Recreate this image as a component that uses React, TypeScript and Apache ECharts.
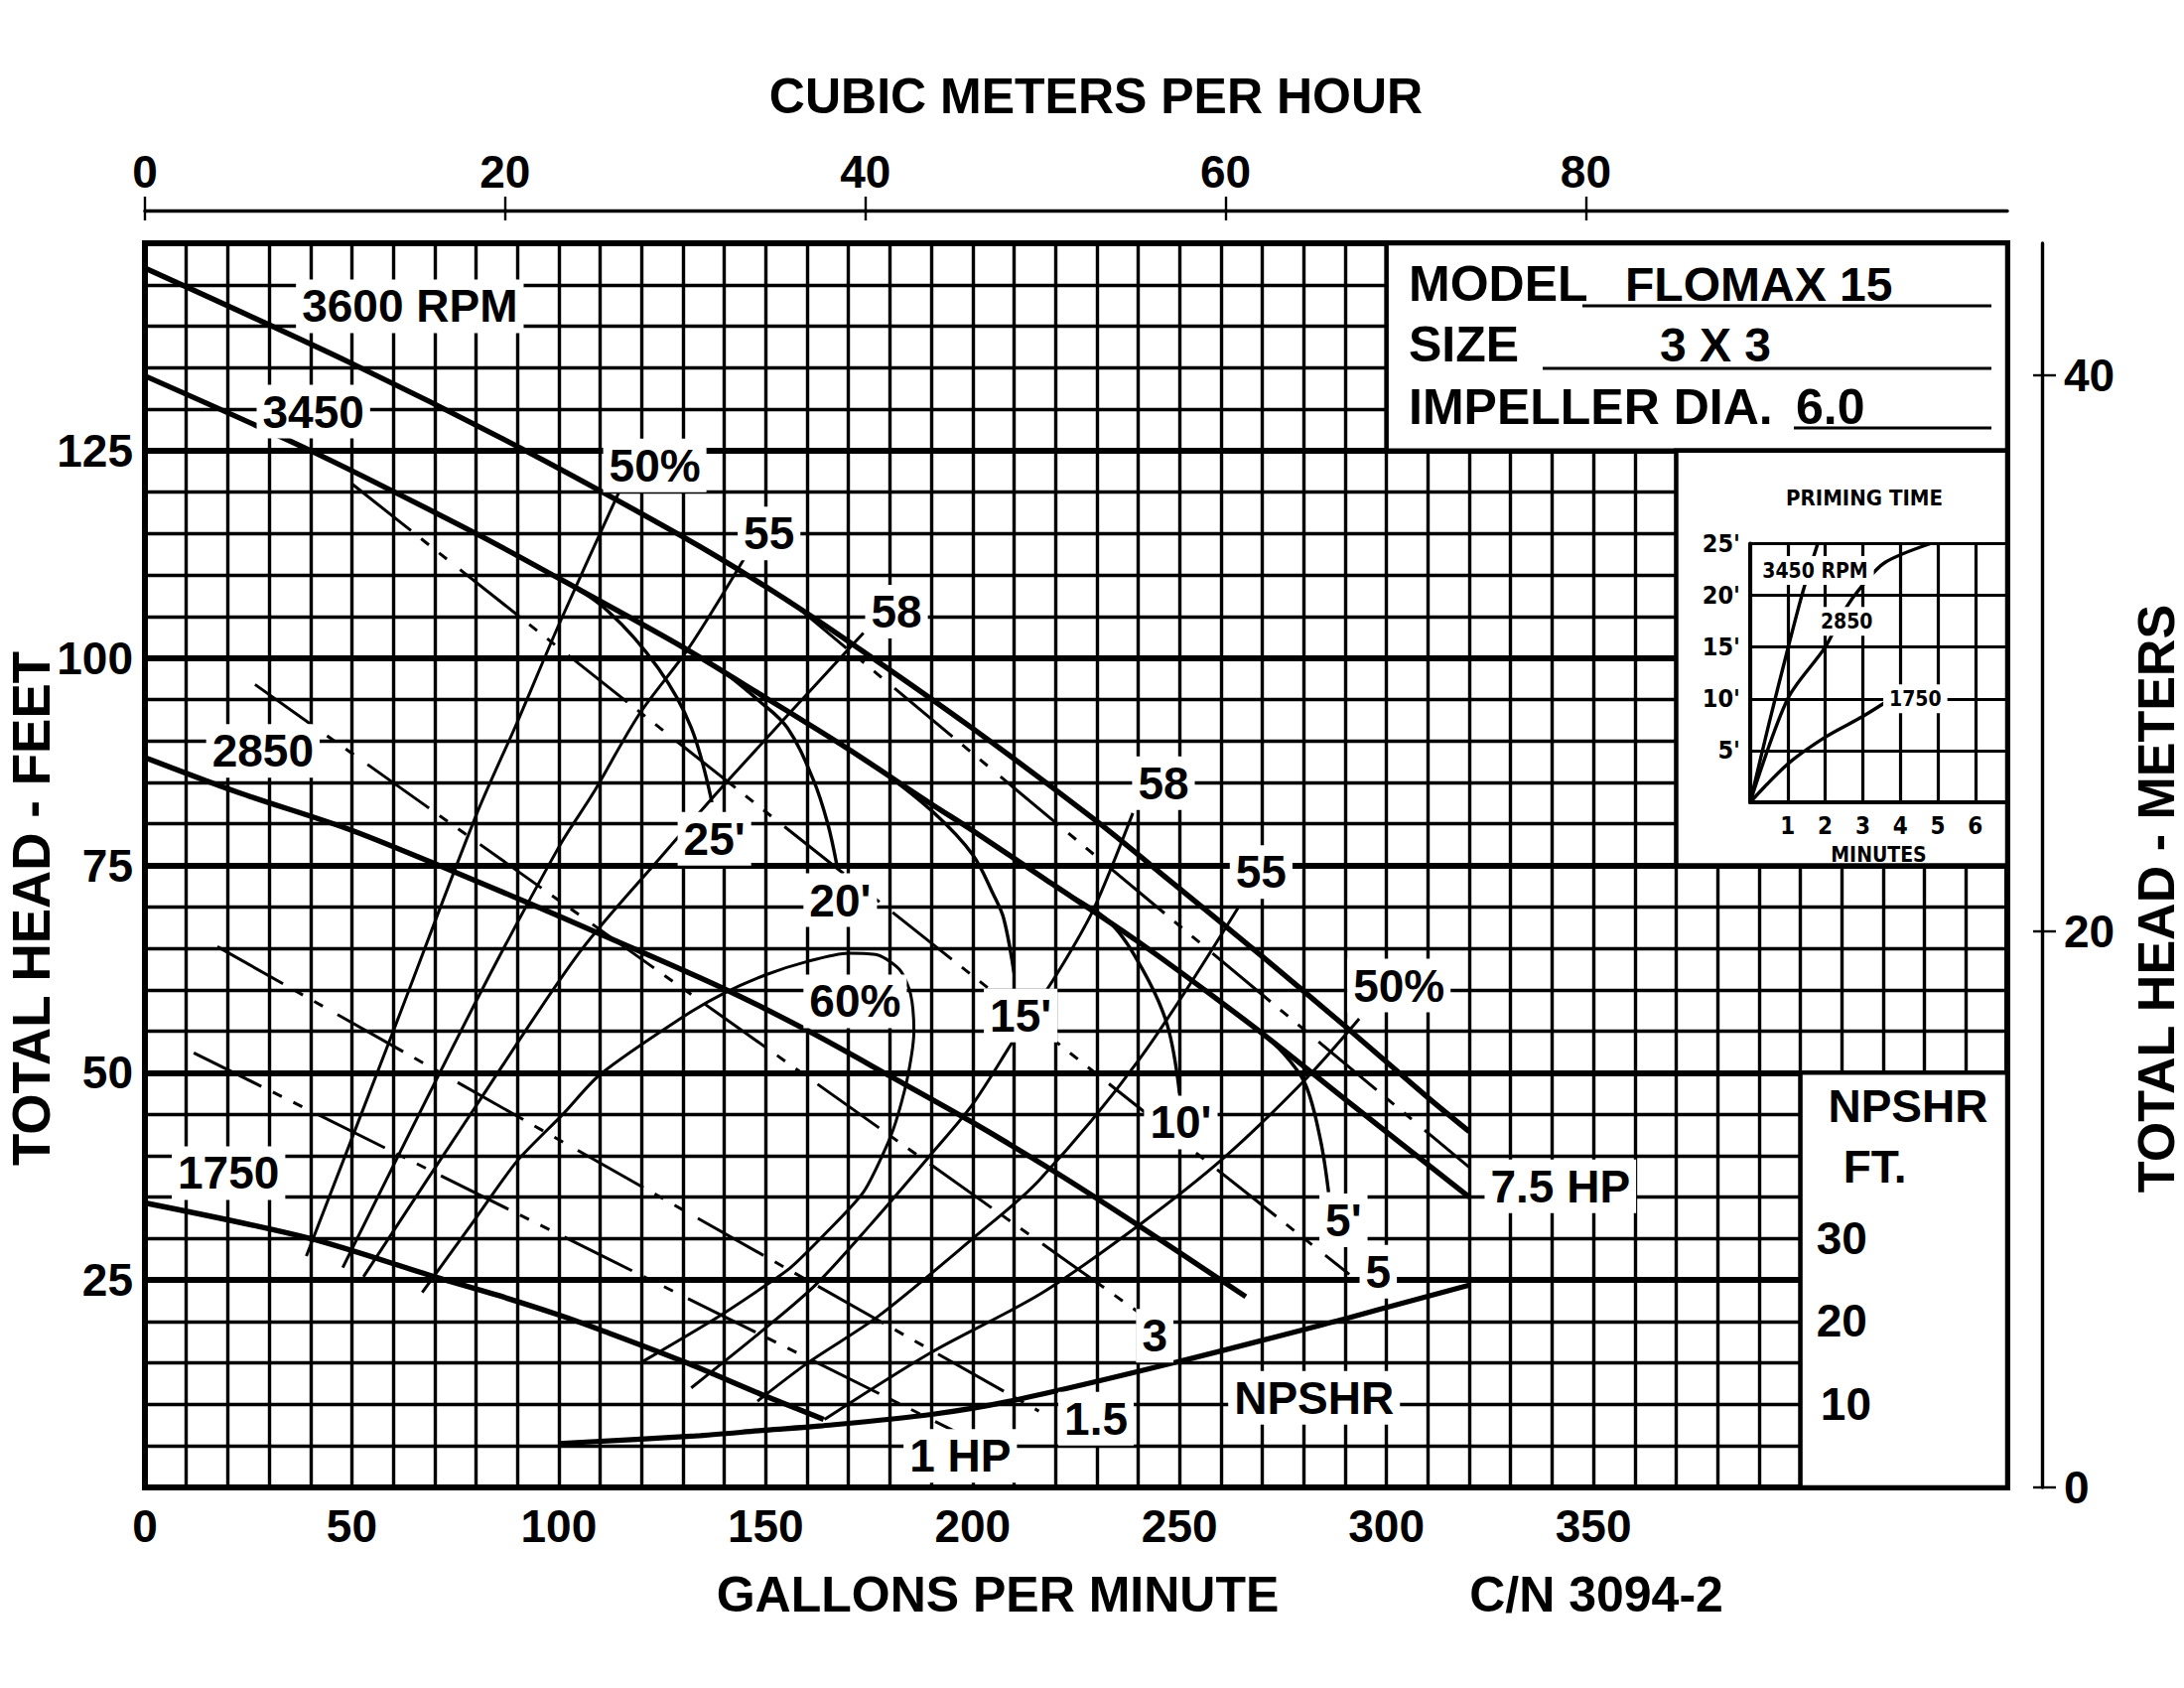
import React, { useEffect, useRef } from 'react';
import * as echarts from 'echarts';

// ---------------- axes ----------------
const gpmMin = 0, gpmMax = 450;
const ftMin = 0, ftMax = 150;
const m3hMax = 103.4;
const meterMax = 44.75;
const gpmTickLabels = [0, 50, 100, 150, 200, 250, 300, 350];
const ftTickLabels = [25, 50, 75, 100, 125];
const m3hTickLabels = [0, 20, 40, 60, 80];
const meterTickLabels = [0, 20, 40];

// ---------------- head curves (GPM, ft) ----------------
const head3600 = [[0, 147], [50, 135.5], [90, 125.5], [130, 114.6], [150, 108.6], [170, 102], [200, 91.5], [230, 80.3], [248, 73], [270, 64], [290, 55.6], [310, 47], [320, 42.9]];
const head3450 = [[0, 134], [40, 125], [80, 115], [100, 109.6], [130, 101.3], [150, 95.2], [170, 89], [190, 82.4], [200, 79.2], [217, 73.5], [240, 65.8], [268, 55.5], [290, 46.8], [320, 35]];
const head2850 = [[0, 88], [22.5, 83.8], [49, 79.4], [70, 75.2], [92, 70.6], [111, 66.5], [140, 60.1], [160, 55.1], [180, 49.6], [200, 44], [220, 38], [240, 31.6], [266, 23]];
const head1750 = [[0, 34.3], [40, 30], [70, 25.4], [85, 23.2], [100, 20.8], [110, 19], [130, 15.2], [150, 11], [164, 8.2]];
const npshr = [[100, 5.3], [133, 6.2], [150, 6.9], [163, 7.4], [190, 8.8], [210, 10.5], [250, 15.2], [289, 20.2], [300, 21.7], [320, 24.4]];

// ---------------- efficiency curves ----------------
const eff50L = [[39, 27.9], [60, 55], [80, 81], [90, 92.3], [100, 104], [115, 120.5]];
const eff55L = [[47.8, 26.5], [80, 58.6], [100, 77.2], [108.3, 83.7], [119.4, 93.2], [131.4, 101.2], [144.8, 112]];
const eff58L = [[52.8, 25.4], [80, 46], [105, 64.5], [125, 76.2], [141, 85.3], [173.6, 103]];
const eff60 = [[67, 23.5], [80, 32.5], [90, 39.4], [101, 45], [110, 49.8], [129.6, 56.6], [140, 59.6], [150, 61.8], [160, 63.4], [170, 64.4], [177, 64.2], [182.4, 62.4], [185, 59.5], [185.8, 55], [184.5, 50], [182, 45], [179.5, 41.5], [173.6, 35.6], [164, 30.4], [156, 26.5], [150.4, 24.5], [138.6, 20.6], [120, 15.1]];
const eff58R = [[132, 12], [150.4, 19.4], [162.2, 24.5], [175, 31.5], [190, 40.2], [200, 46.2], [210, 54], [220.6, 62.1], [229.2, 69.7], [238.7, 81.3]];
const eff55R = [[148, 10.4], [160.4, 15.1], [177.1, 20.6], [200, 30], [216, 37], [240.4, 51.7], [264.4, 70.1]];
const eff50R = [[164.2, 8.2], [189.7, 16.2], [216.6, 23.4], [240.4, 31.7], [260.6, 39.7], [280.6, 49.3], [293.4, 56.5]];

// ---------------- suction lift curves ----------------
const lift25 = [[100, 109.7], [112, 105.6], [124, 98.8], [132, 91.6], [137, 82.6]];
const lift20 = [[140, 98.3], [148, 95], [155.2, 91.6], [161.6, 85.2], [165, 80], [167.2, 75]];
const lift15 = [[178, 86.4], [190.5, 81.4], [200, 76.3], [205, 71.5], [207.5, 68.6], [210, 62]];
const lift10 = [[222, 71.8], [233, 68.2], [241, 62.5], [247, 55.8], [250, 47.5]];
const lift5 = [[268, 55.5], [275, 52.4], [280.4, 48.6], [284, 42], [286, 35.6]];

// ---------------- horsepower lines ----------------
const hp75 = [[155.5, 107], [320, 38.6]];
const hp5 = [[50, 121], [291, 25.7]];
const hp3 = [[26.6, 96.8], [241, 20.8]];
const hp15 = [[17.5, 65.2], [216, 9.2]];
const hp1 = [[11.8, 52.4], [196, 6.7]];

// ---------------- labels on the main chart ----------------
const curveLabels: [string, number, number][] = [
  ['3600 RPM', 64, 142.4], ['3450', 40.7, 129.7], ['2850', 28.5, 88.8], ['1750', 20.2, 37.9],
  ['50%', 123.2, 123.2], ['55', 150.8, 115], ['58', 181.6, 105.6],
  ["25'", 137.6, 78.2], ["20'", 168, 70.8], ['60%', 171.6, 58.6], ["15'", 211.6, 56.9],
  ['58', 246.1, 84.9], ['55', 269.7, 74.2], ['50%', 303, 60.5],
  ["10'", 250.3, 44], ["5'", 289.6, 32.2],
  ['7.5 HP', 342, 36.3], ['5', 298, 26], ['3', 244, 18.3], ['1.5', 229.8, 8.3], ['1 HP', 197, 3.8],
  ['NPSHR', 282.5, 10.8],
];
const npshrBoxLabels: [string, number, number][] = [
  ['NPSHR', 426, 46], ['FT.', 418, 38.7], ['30', 410, 30.1], ['20', 410, 20.1], ['10', 411, 10.1],
];
// blank panels inside the plot (x0, y0, x1, y1 in GPM / ft)
const panels = [[300, 125, 450, 150], [370, 75, 450, 125], [400, 0, 450, 50]];

// ---------------- priming time inset (minutes, ft) ----------------
const primeMinMax = 6.85;
const primeFtMax = 25;
const prime3450 = [[0, 0], [0.5, 7.6], [1, 14.8], [1.4, 20.3], [1.8, 25]];
const prime2850 = [[0, 0], [1, 10], [2, 15], [2.5, 18.5], [3, 21], [3.6, 23.2], [4.8, 25]];
const prime1750 = [[0, 0], [1, 3.7], [2, 6.3], [3, 8.3], [3.75, 10]];
const primeLabels: [string, number, number][] = [['3450 RPM', 1.73, 22.4], ['2850', 2.57, 17.5], ['1750', 4.4, 10]];

// ---------------- styling ----------------
const F = "'Liberation Sans', Arial, Helvetica, sans-serif";
const FN = "'Liberation Sans Narrow', 'Arial Narrow', 'DejaVu Sans Condensed', sans-serif";
const K = '#000';
const DASH = [76, 13, 10, 13, 10, 17];
const GRID_W = 3.4;

function curve(data: number[][], width: number, opts: any = {}) {
  return {
    type: 'line', xAxisIndex: 0, yAxisIndex: 0, data, showSymbol: false, symbol: 'none',
    smooth: opts.smooth ?? 0.3, z: 3, silent: true,
    lineStyle: { color: K, width, type: opts.dash || 'solid', cap: 'butt', opacity: 1 },
  };
}

function labelSeries(items: [string, number, number][], xi: number, yi: number, z: number, font: any, bg: boolean) {
  return {
    type: 'scatter', xAxisIndex: xi, yAxisIndex: yi, symbolSize: 0, z, silent: true,
    itemStyle: { opacity: 1 },
    data: items.map(l => ({ value: [l[1], l[2]], name: l[0] })),
    label: {
      show: true, position: 'inside', formatter: (p: any) => p.name,
      ...font, color: K, opacity: 1, textBorderWidth: 0,
      backgroundColor: bg ? '#fff' : 'transparent', padding: bg ? [4, 6] : 0,
    },
  };
}

function buildOption() {
  const series: any[] = [];
  series.push({
    type: 'line', xAxisIndex: 0, yAxisIndex: 0, data: [[0, 0]], symbol: 'none', z: 2, silent: true,
    lineStyle: { opacity: 0 },
    markArea: {
      silent: true, z: 2,
      itemStyle: { color: '#fff', borderColor: K, borderWidth: 4.5, opacity: 1 },
      data: panels.map(p => [{ coord: [p[0], p[1]] }, { coord: [p[2], p[3]] }]),
    },
  });
  [head3600, head3450, head2850, head1750].forEach(d => series.push(curve(d, 5.4, { smooth: 0.3 })));
  series.push(curve(npshr, 5.2, { smooth: 0.3 }));
  [eff50L, eff55L, eff58L, eff58R, eff55R, eff50R].forEach(d => series.push(curve(d, 3, { smooth: 0.3 })));
  series.push(curve(eff60, 3, { smooth: 0.25 }));
  [lift25, lift20, lift15, lift10, lift5].forEach(d => series.push(curve(d, 3.4, { smooth: 0.35 })));
  [hp75, hp5, hp3, hp15, hp1].forEach(d => series.push(curve(d, 3, { smooth: 0, dash: DASH })));

  const bigFont = { fontFamily: F, fontWeight: 'bold', fontSize: 46 };
  series.push(labelSeries(curveLabels, 0, 0, 4, bigFont, true));
  series.push(labelSeries(npshrBoxLabels, 0, 0, 4, bigFont, false));

  // inset
  [prime3450, prime2850, prime1750].forEach(d => series.push({
    type: 'line', xAxisIndex: 3, yAxisIndex: 4, data: d, showSymbol: false, symbol: 'none',
    smooth: 0.3, z: 6, silent: true, lineStyle: { color: K, width: 3.4 },
  }));
  series.push(labelSeries(primeLabels, 3, 4, 7, { fontFamily: FN, fontWeight: 'bold', fontSize: 21 }, true));

  const tickFont = { fontFamily: F, fontWeight: 'bold' as const, fontSize: 46, color: K };

  return {
    animation: false,
    backgroundColor: '#fff',
    grid: [
      { left: 146, top: 245, width: 1876, height: 1253, show: true, borderColor: K, borderWidth: 6, backgroundColor: 'transparent' },
      { left: 1763, top: 547.5, width: 259, height: 260.5, show: false },
    ],
    xAxis: [
      {
        gridIndex: 0, type: 'value', min: gpmMin, max: gpmMax, interval: 10, position: 'bottom',
        axisLine: { show: false, onZero: false }, axisTick: { show: false },
        axisLabel: { ...tickFont, margin: 16, formatter: (v: number) => (gpmTickLabels.includes(v) ? String(v) : '') },
        splitLine: { show: true, lineStyle: { color: K, width: GRID_W } },
      },
      {
        gridIndex: 0, type: 'value', min: 0, max: m3hMax, position: 'top', offset: 33,
        axisLine: { show: true, onZero: false, lineStyle: { color: K, width: 3.4 } },
        axisTick: { show: true, inside: false, length: 14, lineStyle: { color: K, width: 2.4 }, customValues: m3hTickLabels },
        axisLabel: { ...tickFont, margin: 16, customValues: m3hTickLabels },
        splitLine: { show: false },
      },
      {
        gridIndex: 0, type: 'value', min: 0, max: m3hMax, position: 'top', offset: 33,
        axisLine: { show: false, onZero: false },
        axisTick: { show: true, inside: true, length: 10, lineStyle: { color: K, width: 2.4 }, customValues: m3hTickLabels },
        axisLabel: { show: false },
        splitLine: { show: false },
      },
      {
        gridIndex: 1, type: 'value', min: 0, max: primeMinMax, interval: 1, z: 5,
        axisLine: { show: true, onZero: false, lineStyle: { color: K, width: 4 } },
        axisTick: { show: false },
        axisLabel: { fontFamily: FN, fontWeight: 'bold', fontSize: 24, color: K, margin: 12, formatter: (v: number) => (v >= 1 && v <= 6 ? String(v) : '') },
        splitLine: { show: true, lineStyle: { color: K, width: 3.2 } },
        name: 'MINUTES', nameLocation: 'middle', nameGap: 42,
        nameTextStyle: { fontFamily: FN, fontWeight: 'bold', fontSize: 21, color: K },
      },
    ],
    yAxis: [
      {
        gridIndex: 0, type: 'value', min: ftMin, max: ftMax, interval: 5, position: 'left',
        axisLine: { show: false, onZero: false }, axisTick: { show: false }, axisLabel: { show: false },
        splitLine: { show: true, lineStyle: { color: K, width: GRID_W } },
      },
      {
        gridIndex: 0, type: 'value', min: ftMin, max: ftMax, interval: 25, position: 'left',
        axisLine: { show: false, onZero: false }, axisTick: { show: false },
        axisLabel: { ...tickFont, margin: 12, formatter: (v: number) => (ftTickLabels.includes(v) ? String(v) : '') },
        splitLine: { show: true, lineStyle: { color: K, width: 5.8 } },
      },
      {
        gridIndex: 0, type: 'value', min: 0, max: meterMax, position: 'right', offset: 35,
        axisLine: { show: true, onZero: false, lineStyle: { color: K, width: 3.4 } },
        axisTick: { show: true, inside: false, length: 14, lineStyle: { color: K, width: 2.4 }, customValues: meterTickLabels },
        axisLabel: { ...tickFont, margin: 22, customValues: meterTickLabels },
        splitLine: { show: false },
      },
      {
        gridIndex: 0, type: 'value', min: 0, max: meterMax, position: 'right', offset: 35,
        axisLine: { show: false, onZero: false },
        axisTick: { show: true, inside: true, length: 9, lineStyle: { color: K, width: 2.4 }, customValues: meterTickLabels },
        axisLabel: { show: false }, splitLine: { show: false },
      },
      {
        gridIndex: 1, type: 'value', min: 0, max: primeFtMax, interval: 5, z: 5,
        axisLine: { show: true, onZero: false, lineStyle: { color: K, width: 4 } },
        axisTick: { show: false },
        axisLabel: { fontFamily: FN, fontWeight: 'bold', fontSize: 25, color: K, margin: 10, formatter: (v: number) => (v > 0 ? v + "'" : '') },
        splitLine: { show: true, lineStyle: { color: K, width: 3.2 } },
      },
    ],
    graphic: [
      { type: 'text', x: 1104, y: 97, z: 20, style: { text: 'CUBIC METERS PER HOUR', font: `bold 50px ${F}`, fill: K, align: 'center', verticalAlign: 'middle' } },
      { type: 'text', x: 1005, y: 1606, z: 20, style: { text: 'GALLONS PER MINUTE', font: `bold 50px ${F}`, fill: K, align: 'center', verticalAlign: 'middle' } },
      { type: 'text', x: 1608, y: 1606, z: 20, style: { text: 'C/N 3094-2', font: `bold 50px ${F}`, fill: K, align: 'center', verticalAlign: 'middle' } },
      { type: 'text', x: 31, y: 915, rotation: Math.PI / 2, z: 20, style: { text: 'TOTAL HEAD - FEET', font: `bold 53px ${F}`, fill: K, align: 'center', verticalAlign: 'middle' } },
      { type: 'text', x: 2172, y: 905, rotation: Math.PI / 2, z: 20, style: { text: 'TOTAL HEAD - METERS', font: `bold 52px ${F}`, fill: K, align: 'center', verticalAlign: 'middle' } },
      { type: 'text', x: 1419, y: 286, z: 20, style: { text: 'MODEL', font: `bold 50px ${F}`, fill: K, align: 'left', verticalAlign: 'middle' } },
      { type: 'text', x: 1637, y: 286, z: 20, style: { text: 'FLOMAX 15', font: `bold 48px ${F}`, fill: K, align: 'left', verticalAlign: 'middle' } },
      { type: 'line', z: 20, shape: { x1: 1594, y1: 308, x2: 2006, y2: 308 }, style: { stroke: K, lineWidth: 3 } },
      { type: 'text', x: 1419, y: 347, z: 20, style: { text: 'SIZE', font: `bold 50px ${F}`, fill: K, align: 'left', verticalAlign: 'middle' } },
      { type: 'text', x: 1728, y: 347, z: 20, style: { text: '3 X 3', font: `bold 48px ${F}`, fill: K, align: 'center', verticalAlign: 'middle' } },
      { type: 'line', z: 20, shape: { x1: 1554, y1: 371, x2: 2006, y2: 371 }, style: { stroke: K, lineWidth: 3 } },
      { type: 'text', x: 1419, y: 410, z: 20, style: { text: 'IMPELLER DIA.', font: `bold 50px ${F}`, fill: K, align: 'left', verticalAlign: 'middle' } },
      { type: 'text', x: 1809, y: 410, z: 20, style: { text: '6.0', font: `bold 50px ${F}`, fill: K, align: 'left', verticalAlign: 'middle' } },
      { type: 'line', z: 20, shape: { x1: 1807, y1: 431, x2: 2006, y2: 431 }, style: { stroke: K, lineWidth: 3 } },
      { type: 'text', x: 1878, y: 501, z: 20, style: { text: 'PRIMING TIME', font: `bold 22px ${FN}`, fill: K, align: 'center', verticalAlign: 'middle' } },
    ],
    series,
  };
}

export default function App() {
  const ref = useRef<HTMLDivElement>(null);
  useEffect(() => {
    if (!ref.current) return;
    const chart = echarts.init(ref.current, null, { renderer: 'svg' });
    chart.setOption(buildOption() as any);
    return () => chart.dispose();
  }, []);
  return (
    <div
      ref={ref}
      style={{ position: 'absolute', left: 0, top: 0, width: 2200, height: 1700, background: '#fff' }}
    />
  );
}
